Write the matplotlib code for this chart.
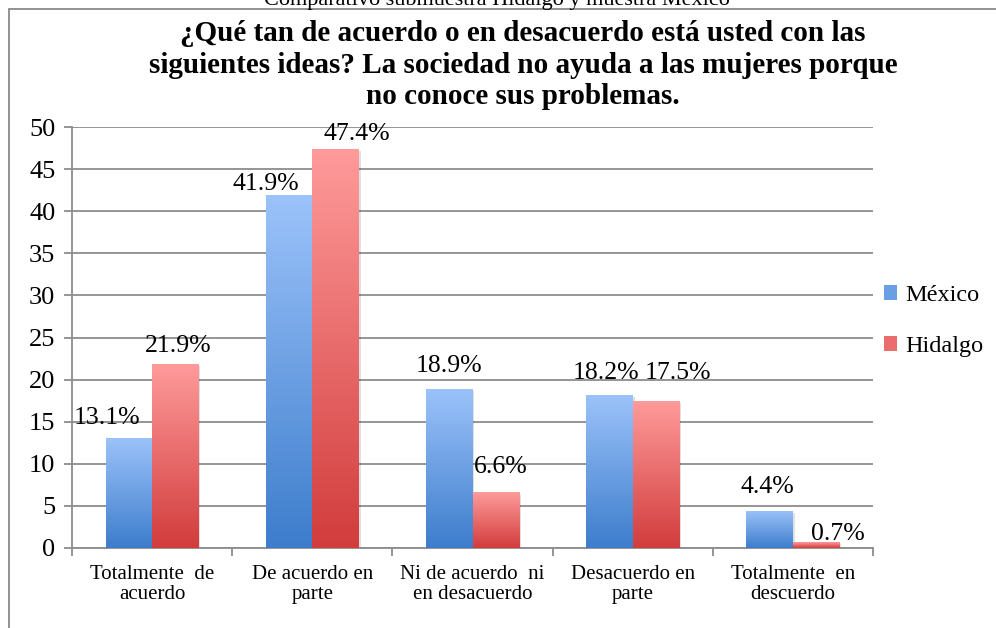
import matplotlib
matplotlib.use("Agg")
import matplotlib.pyplot as plt
import numpy as np
from matplotlib.colors import LinearSegmentedColormap
from matplotlib.patches import Rectangle, Patch

# data
categories = ["Totalmente  de\nacuerdo", "De acuerdo en\nparte", "Ni de acuerdo  ni\nen desacuerdo",
              "Desacuerdo en\nparte", "Totalmente  en\ndescuerdo"]
mexico = [13.1, 41.9, 18.9, 18.2, 4.4]
hidalgo = [21.9, 47.4, 6.6, 17.5, 0.7]
series_names = ["México", "Hidalgo"]

title = ("¿Qué tan de acuerdo o en desacuerdo está usted con las\n"
         "siguientes ideas? La sociedad no ayuda a las mujeres porque\n"
         "no conoce sus problemas.")
top_caption = "Comparativo submuestra Hidalgo y muestra México"

# label nudges (pixels) to mimic the Excel placement
mex_dx = [-22, -23, 0, -3, -2]
mex_dy = [14, 5, 17, 16, 18]
hid_dx = [3, 21, 5, 22, 22]
hid_dy = [12, 9, 19, 22, 2]

blue_cm = LinearSegmentedColormap.from_list("b", ["#3d7dcc", "#9cc3fa"])
red_cm = LinearSegmentedColormap.from_list("r", ["#d23c3c", "#ff9b9b"])

serif = ["Liberation Serif", "DejaVu Serif"]
fig = plt.figure(figsize=(9.96, 6.28), dpi=100)
ax = fig.add_axes([72 / 996, 80 / 628, 801 / 996, 421 / 628])

x = np.arange(len(categories))
w = 0.29
grad = np.linspace(0, 1, 256).reshape(-1, 1)


def draw_bars(xpos, vals, cmap):
    bars = ax.bar(xpos, vals, w, facecolor="none", edgecolor="none", zorder=3)
    for b in bars:
        x0, y0 = b.get_x(), b.get_y()
        bw, bh = b.get_width(), b.get_height()
        sh = Rectangle((x0 + 0.012, y0), bw, bh - 0.25, facecolor="#000000", alpha=0.12,
                       edgecolor="none", zorder=2)
        ax.add_patch(sh)
        im = ax.imshow(grad, extent=[x0, x0 + bw, y0, y0 + bh], origin="lower",
                       aspect="auto", cmap=cmap, zorder=3, interpolation="bilinear")
        im.set_clip_path(b)
    return bars


draw_bars(x - w / 2, mexico, blue_cm)
draw_bars(x + w / 2, hidalgo, red_cm)

for i in range(len(categories)):
    ax.annotate(f"{mexico[i]}%", (x[i] - w / 2, mexico[i]), xytext=(mex_dx[i], mex_dy[i]),
                textcoords="offset pixels", ha="center", va="baseline",
                fontsize=18.5, family=serif, zorder=5)
    ax.annotate(f"{hidalgo[i]}%", (x[i] + w / 2, hidalgo[i]), xytext=(hid_dx[i], hid_dy[i]),
                textcoords="offset pixels", ha="center", va="baseline",
                fontsize=18.5, family=serif, zorder=5)

ax.set_xlim(-0.5, len(categories) - 0.5)
ax.set_ylim(0, 50)
ax.set_yticks(np.arange(0, 51, 5))
ax.yaxis.grid(True, color="#8c8c8c", linewidth=1.3)
ax.set_axisbelow(True)
for s in ["top", "right"]:
    ax.spines[s].set_visible(False)
for s in ["left", "bottom"]:
    ax.spines[s].set_color("#8c8c8c")
    ax.spines[s].set_linewidth(1.3)
ax.tick_params(axis="y", length=6, width=1.3, color="#8c8c8c", labelsize=19, pad=6)
ax.set_xticks(x)
ax.set_xticklabels(categories, fontsize=15, family=serif, linespacing=1.1)
ax.set_xticks(np.arange(-0.5, len(categories), 1), minor=True)
ax.tick_params(axis="x", which="major", length=0, pad=12)
ax.tick_params(axis="x", which="minor", length=6, width=1.3, color="#8c8c8c")
for t in ax.get_yticklabels():
    t.set_family(serif)

handles = [Patch(facecolor="#6a9fe3"), Patch(facecolor="#ea6c6c")]
fig.legend(handles, series_names, loc="center left", bbox_to_anchor=(862 / 996, 1 - 321 / 628),
           frameon=False, prop={"family": serif, "size": 17.5},
           handlelength=0.55, handleheight=0.55, handletextpad=0.35, labelspacing=1.25)

fig.text(523 / 996, 1 - 20 / 628, title, ha="center", va="top", fontsize=21,
         fontweight="bold", family=serif, linespacing=1.22)
fig.text(497 / 996, 1 - 5 / 628, top_caption, ha="center", va="baseline",
         fontsize=16, family=serif)

fig.patches.append(Rectangle((9 / 996, -0.1), 2, 1.1 - 9 / 628, transform=fig.transFigure,
                             facecolor="none", edgecolor="#7f7f7f", linewidth=1.2))

fig.savefig("out.png", dpi=100)
